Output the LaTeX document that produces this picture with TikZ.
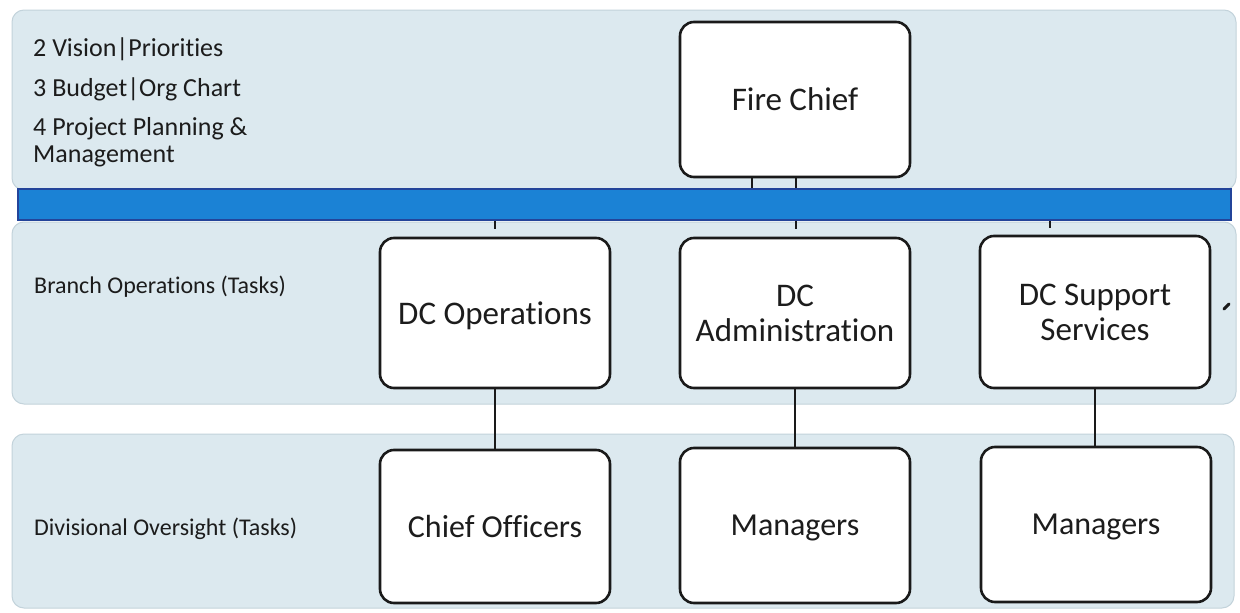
\documentclass[tikz,border=0pt]{standalone}
\usepackage{fontspec}
\setmainfont{Carlito}[Ligatures=NoCommon]
\definecolor{bandfill}{HTML}{DCE9EF}
\definecolor{bandedge}{HTML}{C3D3DB}
\definecolor{barfill}{HTML}{1B82D5}
\definecolor{baredge}{HTML}{23449A}
\definecolor{boxline}{HTML}{1A1A1A}
\definecolor{ink}{HTML}{1C1C1C}
\begin{document}
\begin{tikzpicture}[x=1pt,y=-1pt,
  band/.style={fill=bandfill, draw=bandedge, line width=1pt, rounded corners=12pt},
  unit/.style={draw=boxline, line width=2.6pt, fill=white, rounded corners=14pt,
    minimum width=230pt, align=center, inner sep=0pt, text=ink, text depth=0pt,
    font=\fontsize{33}{35}\selectfont},
  link/.style={draw=boxline, line width=2pt},
  toplbl/.style={anchor=base west, inner sep=0pt, text=ink, align=left,
    font=\fontsize{26}{27}\selectfont},
  rowlbl/.style={anchor=base west, inner sep=0pt, text=ink,
    font=\fontsize{24}{27}\selectfont}]
\useasboundingbox (0,0) rectangle (1240,613);
\fill[white] (0,0) rectangle (1240,613);

% background bands
\path[band] (12,10) rectangle (1236,190);
\path[band] (12,222) rectangle (1236,404);
\path[band] (12,434) rectangle (1234,608);

% top band notes
\node[toplbl] (n2) at (33,56) {2 Vision|Priorities};
\node[toplbl] (n3) at (33,96) {3 Budget|Org Chart};
\node[toplbl, anchor=north west] (n4) at (33,117) {4 Project Planning \&\\Management};

% row labels
\node[rowlbl] (branch) at (34,293) {Branch Operations (Tasks)};
\node[rowlbl] (divis) at (34,535) {Divisional Oversight (Tasks)};

% blue divider bar
\node[fill=barfill, draw=baredge, line width=1.5pt, minimum width=1213pt,
      minimum height=31pt, inner sep=0pt] (bar) at (624.5,204.5) {};

% boxes
\node[unit, minimum height=155pt] (chief) at (795,99.5) {Fire Chief};
\node[unit, minimum height=150pt] (ops) at (495,313) {DC Operations};
\node[unit, minimum height=150pt] (adm) at (795,313) {DC\\Administration};
\node[unit, minimum height=152pt] (sup) at (1095,312) {DC Support\\Services};
\node[unit, minimum height=153pt, font=\fontsize{32}{35}\selectfont] (off) at (495,526.5) {Chief Officers};
\node[unit, minimum height=155pt, font=\fontsize{32}{35}\selectfont] (mgr1) at (795,525.5) {Managers};
\node[unit, minimum height=155pt, font=\fontsize{32}{35}\selectfont] (mgr2) at (1096,524.5) {Managers};

% connector stubs on the bar
\coordinate (c1) at (752,0);
\coordinate (c2) at (796,0);
\coordinate (t1) at (495,229);
\coordinate (t2) at (796,229);
\coordinate (t3) at (1050,228);

\draw[link] (chief.south -| c1) -- (bar.north -| c1);
\draw[link] (chief.south -| c2) -- (bar.north -| c2);
\draw[link] (bar.south -| t1) -- (t1);
\draw[link] (bar.south -| t2) -- (t2);
\draw[link] (bar.south -| t3) -- (t3);

% branch to division links
\draw[link] (ops.south) -- (off.north);
\draw[link] (adm.south) -- (mgr1.north -| adm.south);
\draw[link] (sup.south) -- (mgr2.north -| sup.south);

% small ink mark at the right margin
\draw[boxline, line width=3pt, line cap=round] (1224,309) -- (1229,304);
\end{tikzpicture}
\end{document}
